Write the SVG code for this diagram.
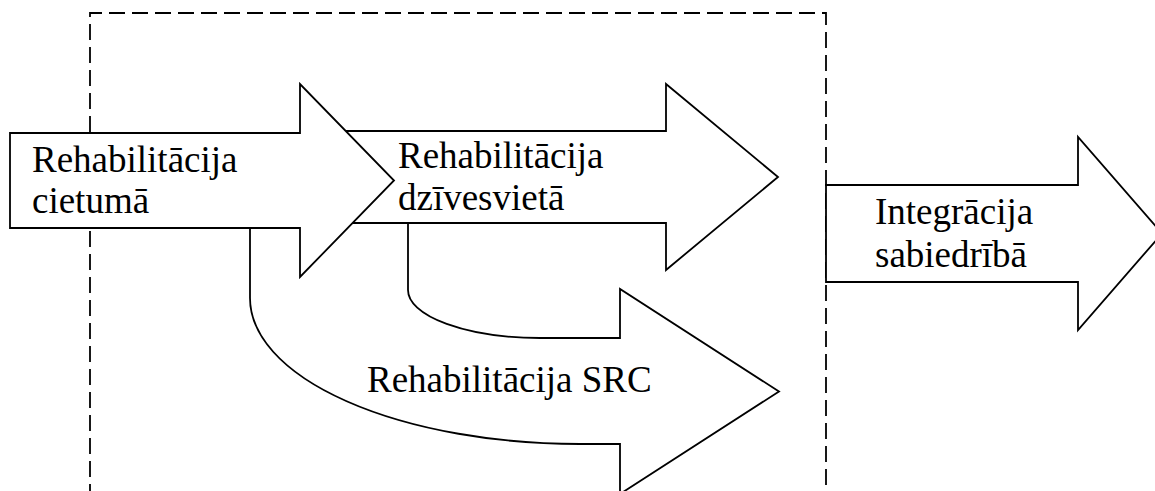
<svg xmlns="http://www.w3.org/2000/svg" width="1155" height="491" viewBox="0 0 1155 491">
<style>
.shape{fill:#fff;stroke:#000;stroke-width:1.8;stroke-linejoin:miter}
.dash{fill:none;stroke:#000;stroke-width:1.8;stroke-dasharray:16 7}
.lbl{font-family:"Liberation Serif","Times New Roman",serif;font-size:37px;fill:#000}
</style>
<rect width="1155" height="491" fill="#fff"/>
<g id="boundary">
<path class="dash" d="M90 500 L90 13 L826 13 L826 500"/>
</g>
<g id="connectors"></g>
<g id="rehab-src">
<path class="shape" d="M408 200 L408 290 A132 48 0 0 0 540 338 L620 338 L620 289 L779 391.5 L620 494 L620 444 L580 444 A330 146 0 0 1 250 298 L250 200 Z"/>
<text class="lbl" x="367" y="392">Rehabilitācija SRC</text>
</g>
<g id="rehab-home">
<polygon class="shape" points="320,131 666,131 666,84 778,177 666,270 666,223 320,223"/>
<text class="lbl" x="398" y="168">Rehabilitācija</text>
<text class="lbl" x="398" y="210">dzīvesvietā</text>
</g>
<g id="rehab-prison">
<polygon class="shape" points="10,133 300,133 300,84 394,180.5 300,277 300,228 10,228"/>
<text class="lbl" x="32" y="172">Rehabilitācija</text>
<text class="lbl" x="32" y="213">cietumā</text>
</g>
<g id="integration">
<polygon class="shape" points="826,185 1078,185 1078,137 1162,233.5 1078,330 1078,282 826,282"/>
<text class="lbl" x="875" y="224">Integrācija</text>
<text class="lbl" x="875" y="267">sabiedrībā</text>
</g>
</svg>
